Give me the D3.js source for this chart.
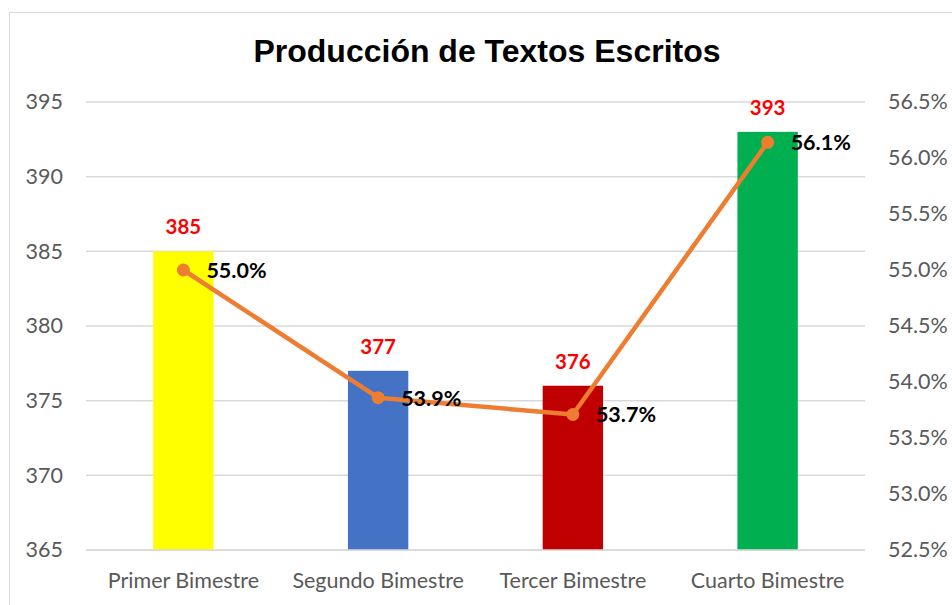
<!DOCTYPE html>
<html>
<head>
<meta charset="utf-8">
<script src="https://cdn.jsdelivr.net/npm/d3@7"></script>
<style>
  body { margin: 0; background: #fff; }
</style>
</head>
<body>
<script>
const categories = ['Primer Bimestre', 'Segundo Bimestre', 'Tercer Bimestre', 'Cuarto Bimestre'];
const counts = [385, 377, 376, 393];
const shares = [0.55, 0.5386, 0.5371, 0.5614];
const barColours = ['#FFFF00', '#4472C4', '#C00000', '#00B050'];
const leftTicks = [365, 370, 375, 380, 385, 390, 395];
const rightTicks = [0.525, 0.53, 0.535, 0.54, 0.545, 0.55, 0.555, 0.56, 0.565];

const width = 952;
const height = 605;
const plot = {left: 86, right: 865, top: 102, bottom: 550};
const tickFont = 'Lato, "Open Sans", sans-serif';

const svg = d3.select('body')
              .append('svg')
                .attr('width', width)
                .attr('height', height);

// outer chart border
svg.append('rect')
   .attr('x', 9.5)
   .attr('y', 12.5)
   .attr('width', 1000)
   .attr('height', 1000)
   .attr('fill', 'white')
   .attr('stroke', '#d9d9d9');

const xScale = d3.scaleBand()
                 .domain(categories)
                 .range([plot.left, plot.right])
                 .paddingInner(0.69)
                 .paddingOuter(0.345);

const yLeft = d3.scaleLinear()
                .domain([365, 395])
                .range([plot.bottom, plot.top]);

const yRight = d3.scaleLinear()
                 .domain([0.525, 0.565])
                 .range([plot.bottom, plot.top]);

// title
svg.append('text')
   .attr('x', 487)
   .attr('y', 62)
   .attr('text-anchor', 'middle')
   .attr('font-family', '"Liberation Sans", Arial, sans-serif')
   .attr('font-weight', 'bold')
   .attr('font-size', 32)
   .text('Producción de Textos Escritos');

// gridlines
svg.append('g')
   .selectAll('line')
   .data(leftTicks)
   .enter()
     .append('line')
       .attr('x1', plot.left)
       .attr('x2', plot.right)
       .attr('y1', (d) => yLeft(d))
       .attr('y2', (d) => yLeft(d))
       .attr('stroke', '#d9d9d9')
       .attr('stroke-width', 1.5);

// left axis
const leftAxis = svg.append('g')
   .attr('transform', `translate(${plot.left}, 0)`)
   .call(d3.axisLeft(yLeft).tickValues(leftTicks).tickSize(0).tickPadding(23));
leftAxis.select('.domain').remove();

// right axis
const rightAxis = svg.append('g')
   .attr('transform', `translate(${plot.right}, 0)`)
   .call(d3.axisRight(yRight).tickValues(rightTicks).tickSize(0).tickPadding(23)
           .tickFormat(d3.format('.1%')));
rightAxis.select('.domain').remove();

// bottom axis
const bottomAxis = svg.append('g')
   .attr('transform', `translate(0, ${plot.bottom})`)
   .call(d3.axisBottom(xScale).tickSize(0).tickPadding(23));
bottomAxis.select('.domain').remove();

svg.selectAll('.tick text')
   .attr('font-family', tickFont)
   .attr('font-size', 21.5)
   .attr('fill', '#595959');

// bars
svg.append('g')
   .selectAll('rect')
   .data(counts)
   .enter()
     .append('rect')
       .attr('x', (d, i) => xScale(categories[i]))
       .attr('y', (d) => yLeft(d))
       .attr('width', xScale.bandwidth())
       .attr('height', (d) => plot.bottom - yLeft(d))
       .attr('fill', (d, i) => barColours[i]);

// baseline on top of bars
svg.append('line')
   .attr('x1', plot.left)
   .attr('x2', plot.right)
   .attr('y1', plot.bottom)
   .attr('y2', plot.bottom)
   .attr('stroke', '#d9d9d9')
   .attr('stroke-width', 1.5);

// bar value labels
svg.append('g')
   .selectAll('text')
   .data(counts)
   .enter()
     .append('text')
       .attr('x', (d, i) => xScale(categories[i]) + xScale.bandwidth() / 2)
       .attr('y', (d) => yLeft(d) - 17)
       .attr('text-anchor', 'middle')
       .attr('font-family', tickFont)
       .attr('font-weight', 'bold')
       .attr('font-size', 20.5)
       .attr('fill', '#FF0000')
       .text((d) => d);

// percentage line
const cx = (i) => xScale(categories[i]) + xScale.bandwidth() / 2;
const line = d3.line()
               .x((d, i) => cx(i))
               .y((d) => yRight(d));

svg.append('path')
   .datum(shares)
   .attr('d', line)
   .attr('fill', 'none')
   .attr('stroke', '#ED7D31')
   .attr('stroke-width', 4.5)
   .attr('stroke-linejoin', 'round');

svg.append('g')
   .selectAll('circle')
   .data(shares)
   .enter()
     .append('circle')
       .attr('cx', (d, i) => cx(i))
       .attr('cy', (d) => yRight(d))
       .attr('r', 6.5)
       .attr('fill', '#ED7D31');

svg.append('g')
   .selectAll('text')
   .data(shares)
   .enter()
     .append('text')
       .attr('x', (d, i) => cx(i) + 23)
       .attr('y', (d) => yRight(d) + 8)
       .attr('font-family', tickFont)
       .attr('font-weight', 'bold')
       .attr('font-size', 21.5)
       .attr('fill', '#000')
       .text((d) => d3.format('.1%')(d));
</script>
</body>
</html>
